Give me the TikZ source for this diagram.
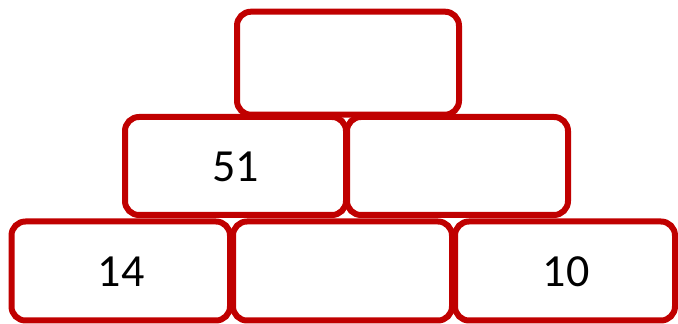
\documentclass[tikz,border=0pt]{standalone}
\usepackage{fontspec}
\setmainfont{Carlito}
\definecolor{boxred}{RGB}{192,0,0}
\begin{document}
\begin{tikzpicture}[x=1pt,y=1pt,
  brick/.style={draw=boxred, line width=6pt, rounded corners=14pt, fill=none},
  num/.style={font=\fontsize{46}{50}\selectfont, text=black, inner sep=0pt}]
\useasboundingbox (0,0) rectangle (678,324);
% top
\draw[brick] (237,{324-11.7}) rectangle (459,{324-114.7});
% middle
\draw[brick] (125,{324-117}) rectangle (346,{324-215});
\draw[brick] (347,{324-117}) rectangle (568,{324-215});
% bottom
\draw[brick] (11.5,{324-221.5}) rectangle (230,{324-320.5});
\draw[brick] (233,{324-221.5}) rectangle (452,{324-320.5});
\draw[brick] (455,{324-221.5}) rectangle (675,{324-320.5});
% numbers
\node[num] (n51) at (235.5,{324-166.5}) {51};
\node[num] (n14) at (121,{324-271.5}) {14};
\node[num] (n10) at (566,{324-271.5}) {10};
\end{tikzpicture}
\end{document}
